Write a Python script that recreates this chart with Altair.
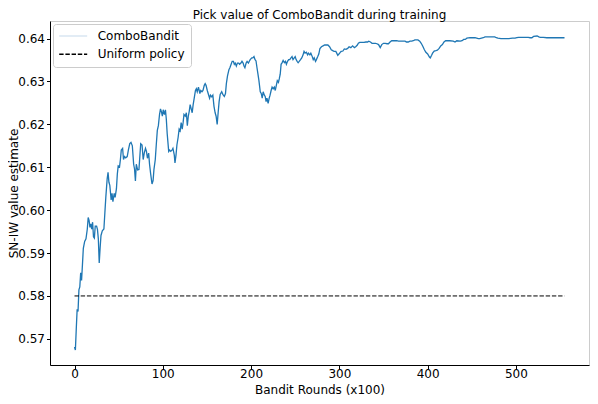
import altair as alt
import pandas as pd

chart_title = "Pick value of ComboBandit during training"
x_title = "Bandit Rounds (x100)"
y_title = "SN-IW value estimate"
series_names = ["ComboBandit", "Uniform policy"]
x_ticks = [0, 100, 200, 300, 400, 500]
y_ticks = [0.57, 0.58, 0.59, 0.60, 0.61, 0.62, 0.63, 0.64]

rounds = [
    0, 1, 2, 3, 4, 5, 6, 7, 8, 9,
    10, 11.5, 13, 14.5, 15.5, 16.5, 17.5, 18.5, 19.5, 20.5,
    21.5, 22.5, 23.5, 25, 26, 27, 28, 29, 30, 31.5,
    33.3, 34.4, 35.5, 37, 38, 39, 40, 41.5, 42.5, 43.5,
    45, 46, 47.5, 48.5, 49.5, 51, 52, 53, 54.5, 55.5,
    56.7, 58, 59.7, 61, 62.6, 64, 65.5, 67, 68, 69,
    70, 71.5, 73, 74, 75, 76.5, 77.8, 79, 80.4, 81.5,
    82.6, 84, 85, 86.3, 87.8, 89, 90, 91.5, 92.6, 93.8,
    95, 96.3, 97.4, 98.5, 99.5, 100.5, 101.9, 103, 104, 105,
    106.7, 107.8, 109, 110.4, 111.5, 113, 113.8, 115, 116, 117.4,
    118.5, 119.7, 120.8, 122, 123, 124, 125.5, 126.7, 127.8, 128.9,
    130, 131, 132, 133.3, 134.4, 135.6, 137, 138, 139, 140.4,
    142, 143, 144.4, 145.5, 147, 148, 149, 150.4, 152, 153,
    154, 155.5, 156.7, 158, 159.3, 160.4, 161.6, 162.7, 163.8, 165,
    166.7, 168, 169.7, 171, 172, 173.3, 175, 176, 177.4, 178.6,
    180, 181, 182, 183.3, 184.5, 186, 187, 188.5, 189.7, 191,
    192, 193, 194.4, 195.5, 197, 198, 199, 200.8, 202, 203.3,
    204.5, 205.6, 206.7, 207.8, 208.9, 210.4, 211.5, 212.6, 213.7, 215,
    216, 217, 218, 219.3, 220.5, 221.5, 222.7, 223.8, 225, 226.3,
    227.4, 228.6, 229.7, 231, 231.9, 233, 234, 235.2, 236.3, 237.7,
    238.9, 240, 241.3, 242.6, 243.8, 245.2, 246.4, 247.5, 248.9, 250,
    251, 252.2, 253.3, 254.5, 256, 257.4, 258.9, 260, 261.2, 262.6,
    264, 265, 266.6, 267.7, 269.3, 270.4, 271.5, 273, 274, 275.5,
    276.7, 278, 279.7, 281.5, 283.3, 285, 287, 288.9, 290.8, 292.5,
    294, 296, 297, 298.2, 299.5, 301, 302, 304, 305.6, 307.5,
    309.4, 311, 313, 315, 317, 318.5, 320.4, 321.5, 323, 326,
    328, 330, 332, 333.3, 335.2, 337, 339, 341, 342.6, 344.4,
    346.3, 348, 350, 352, 354, 355.6, 357.4, 359.3, 361, 363,
    365, 367, 369, 371, 372.6, 374.4, 376, 378, 380, 382,
    383.7, 385.5, 387.4, 389, 391, 392.7, 394.5, 396.3, 398, 400,
    402, 403, 404.5, 405.6, 407.4, 409.3, 411, 413, 414.8, 416.7,
    418.5, 420.4, 422, 425, 429, 431, 433, 437, 439, 440.8,
    442.6, 444.4, 448, 450, 451.8, 453.7, 455.5, 457.4, 459, 461,
    463, 465, 469, 473, 476, 477.8, 479.6, 483, 485, 489,
    492, 496, 499, 501, 503, 507, 511, 514, 516, 518,
    520, 524, 526, 527.5, 531, 535, 540, 545, 550, 555,
]

values = [
    .5681, .5674, .5723, .5769, .5764, .5814, .5821, .5854, .5836, .5873,
    .5911, .5927, .5933, .5956, .5983, .5976, .5960, .5968, .5956, .5972,
    .5938, .5935, .5963, .5963, .5955, .5933, .5877, .5911, .5941, .5952,
    .5956, .5994, .6031, .6073, .6088, .6065, .6058, .6024, .6039, .6020,
    .6039, .6030, .6050, .6084, .6103, .6101, .6118, .6140, .6144, .6118,
    .6125, .6122, .6125, .6140, .6155, .6158, .6150, .6107, .6096, .6068,
    .6107, .6094, .6095, .6125, .6155, .6152, .6118, .6133, .6144, .6137,
    .6121, .6133, .6107, .6084, .6061, .6069, .6095, .6118, .6152, .6186,
    .6197, .6223, .6236, .6229, .6219, .6234, .6223, .6234, .6212, .6178,
    .6137, .6140, .6137, .6140, .6144, .6129, .6110, .6129, .6152, .6170,
    .6189, .6185, .6204, .6189, .6204, .6223, .6219, .6227, .6197, .6219,
    .6231, .6246, .6238, .6227, .6246, .6261, .6279, .6283, .6276, .6287,
    .6272, .6279, .6276, .6279, .6291, .6295, .6291, .6279, .6268, .6261,
    .6268, .6264, .6268, .6242, .6227, .6219, .6200, .6227, .6253, .6270,
    .6276, .6270, .6265, .6272, .6295, .6313, .6328, .6332, .6340, .6347,
    .6347, .6340, .6343, .6336, .6343, .6343, .6340, .6343, .6347, .6343,
    .6336, .6332, .6343, .6347, .6343, .6347, .6351, .6355, .6355, .6358,
    .6351, .6348, .6332, .6317, .6302, .6276, .6272, .6261, .6276, .6268,
    .6265, .6253, .6261, .6249, .6261, .6268, .6279, .6287, .6283, .6287,
    .6279, .6291, .6302, .6298, .6306, .6317, .6340, .6344, .6349, .6344,
    .6347, .6340, .6347, .6351, .6351, .6355, .6358, .6351, .6355, .6358,
    .6351, .6347, .6344, .6347, .6351, .6355, .6362, .6370, .6366, .6368,
    .6362, .6366, .6362, .6366, .6358, .6351, .6355, .6347, .6351, .6358,
    .6364, .6377, .6381, .6383, .6385, .6385, .6385, .6381, .6374, .6372,
    .6370, .6370, .6366, .6361, .6364, .6368, .6370, .6371, .6376, .6375,
    .6377, .6381, .6379, .6383, .6379, .6381, .6385, .6389, .6391, .6391,
    .6391, .6392, .6392, .6394, .6392, .6389, .6389, .6389, .6388, .6386,
    .6379, .6386, .6389, .6389, .6388, .6388, .6392, .6395, .6395, .6395,
    .6395, .6394, .6394, .6394, .6394, .6394, .6392, .6392, .6394, .6394,
    .6395, .6397, .6397, .6397, .6394, .6389, .6382, .6374, .6368, .6364,
    .6357, .6355, .6361, .6366, .6371, .6372, .6373, .6377, .6383, .6386,
    .6392, .6395, .6395, .6395, .6394, .6392, .6395, .6394, .6395, .6398,
    .6398, .6401, .6402, .6402, .6402, .6402, .6401, .6400, .6400, .6401,
    .6402, .6404, .6404, .6404, .6404, .6402, .6401, .6400, .6400, .6400,
    .6400, .6401, .6401, .6402, .6403, .6403, .6403, .6403, .6402, .6402,
    .6405, .6406, .6404, .6403, .6403, .6402, .6402, .6402, .6402, .6402,
]

uniform_rounds = [0, 555]
uniform_values = [0.58, 0.58]

assert len(rounds) == len(values)

combo_df = pd.DataFrame({"round": rounds, "value": values, "series": series_names[0]})
uniform_df = pd.DataFrame({"round": uniform_rounds, "value": uniform_values, "series": series_names[1]})

W, H = 539, 344
FONT = "DejaVu Sans"

xscale = alt.Scale(domain=[-27.75, 582.75], nice=False, zero=False)
yscale = alt.Scale(domain=[0.5639, 0.6441], nice=False, zero=False)

x_enc = alt.X("round:Q", scale=xscale,
              axis=alt.Axis(values=x_ticks, format="d", title=x_title,
                            labelPadding=0, titlePadding=5, labelFlush=False))
y_enc = alt.Y("value:Q", scale=yscale,
              axis=alt.Axis(values=y_ticks, format=".2f", title=y_title,
                            labelPadding=2, titleX=-32.5, titleY=H / 2,
                            titleBaseline="alphabetic", labelFlush=False))

legend = alt.Legend(
    title=None, orient="none", legendX=3, legendY=3,
    symbolType="M-4,0H4", symbolSize=49, symbolStrokeWidth=1.5,
    symbolOffset=8.2, labelOffset=18.5,
    labelFont=FONT, labelFontSize=12, labelColor="black",
    rowPadding=6.3, padding=6,
    fillColor="white", strokeColor="#cccccc", cornerRadius=3,
)

color_enc = alt.Color("series:N",
                      scale=alt.Scale(domain=series_names, range=["#d9e6f2", "black"]),
                      legend=legend)
dash_enc = alt.StrokeDash("series:N",
                          scale=alt.Scale(domain=series_names, range=[[1, 0], [4.4, 1.8]]),
                          legend=legend)

combo = alt.Chart(combo_df).mark_line(strokeWidth=1.3, color="#1f77b4").encode(x=x_enc, y=y_enc)
uniform = alt.Chart(uniform_df).mark_line(strokeWidth=1).encode(
    x=x_enc, y=y_enc, color=color_enc, strokeDash=dash_enc)

chart = (
    alt.layer(combo, uniform)
    .properties(
        width=W, height=H,
        title=alt.TitleParams(text=chart_title, anchor="middle", frame="group", offset=3,
                              dy=13, fontSize=12, font=FONT, fontWeight="normal",
                              color="black", baseline="alphabetic"),
        padding={"left": 42, "top": 13, "right": 1, "bottom": 31},
        autosize=alt.AutoSizeParams(type="none"),
    )
    .configure_view(stroke="#cccccc", strokeWidth=1)
    .configure_axis(
        domainColor="black", tickColor="black", tickSize=3.5, domainWidth=1, tickWidth=1,
        labelFont=FONT, labelFontSize=12, labelColor="black",
        titleFont=FONT, titleFontSize=12, titleFontWeight="normal", titleColor="black",
        grid=False,
    )
)

chart.save("out.html", embed_options={"renderer": "svg", "actions": False})
